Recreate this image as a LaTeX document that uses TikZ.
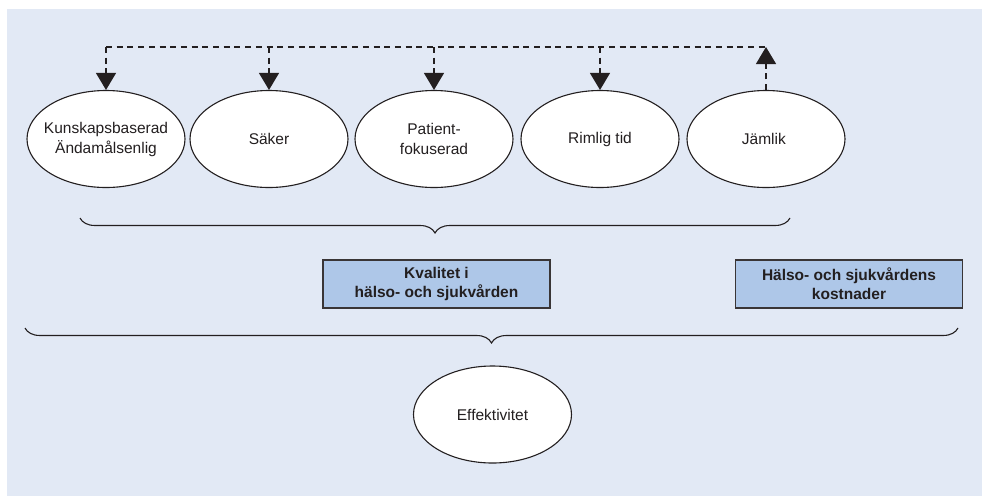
\documentclass[tikz,border=0pt]{standalone}
\usepackage{fontspec}
\setmainfont{Liberation Sans}
\usetikzlibrary{shapes.geometric,arrows.meta,decorations.pathreplacing}

\definecolor{bakgrund}{HTML}{E2E9F5}
\definecolor{ruta}{HTML}{AEC7E8}
\definecolor{kant}{HTML}{231F20}

\begin{document}
\begin{tikzpicture}[x=1pt,y=-1pt,
    font=\fontsize{15.5}{20}\selectfont,
    text=kant,
    ellips/.style={ellipse,draw=kant,fill=white,line width=1.1pt,
        minimum width=158pt,minimum height=97pt,inner sep=0pt},
    fyrkant/.style={rectangle,draw=kant!90,fill=ruta,line width=1.1pt,
        minimum width=227pt,minimum height=48pt,inner sep=0pt,align=center,
        font=\fontsize{15.5}{19}\selectfont\bfseries},
    streck/.style={draw=kant,line width=1.2pt,dash pattern=on 6pt off 4.7pt},
    pil/.style={streck,-{Triangle[width=20pt,length=17pt]}},
    klammer/.style={draw=kant,line width=1.1pt,decorate,
        decoration={brace,mirror,amplitude=15pt}}]

% Bakgrund
\useasboundingbox (0,0) rectangle (982,496);
\fill[bakgrund] (7,9) rectangle (982,496);

% Kvalitet
\foreach \namn/\x/\txt in {
kb/106/{Kunskapsbaserad\\Ändamålsenlig},
sak/269/{Säker},
pat/434/{Patient-\\fokuserad},
rim/600/{Rimlig tid},
jam/766/{Jämlik}
}
{
    \node[ellips,label={[align=center]center:\txt}] (\namn) at (\x,139) {};
}

% Pilar
\coordinate (topp) at (0,47);
\draw[streck] (kb.north |- topp) -- (jam.north |- topp);

\foreach \namn in {kb,sak,pat,rim}
{
    \draw[pil] (\namn.north |- topp) -- (\namn.north);
}
\draw[pil] (jam.north) -- (jam.north |- topp);

% Klammer
\draw[klammer] (80,218) -- (790,218);

\node[fyrkant] (kval) at (436.5,284)
{Kvalitet i\\hälso- och sjukvården};

\node[fyrkant] (kost) at (849,284)
{Hälso- och sjukvårdens\\kostnader};

\draw[klammer] (25,328) -- (958,328);

% Effektivitet
\node[ellips] (eff) at (492.5,414.5)
{Effektivitet};

\end{tikzpicture}
\end{document}
